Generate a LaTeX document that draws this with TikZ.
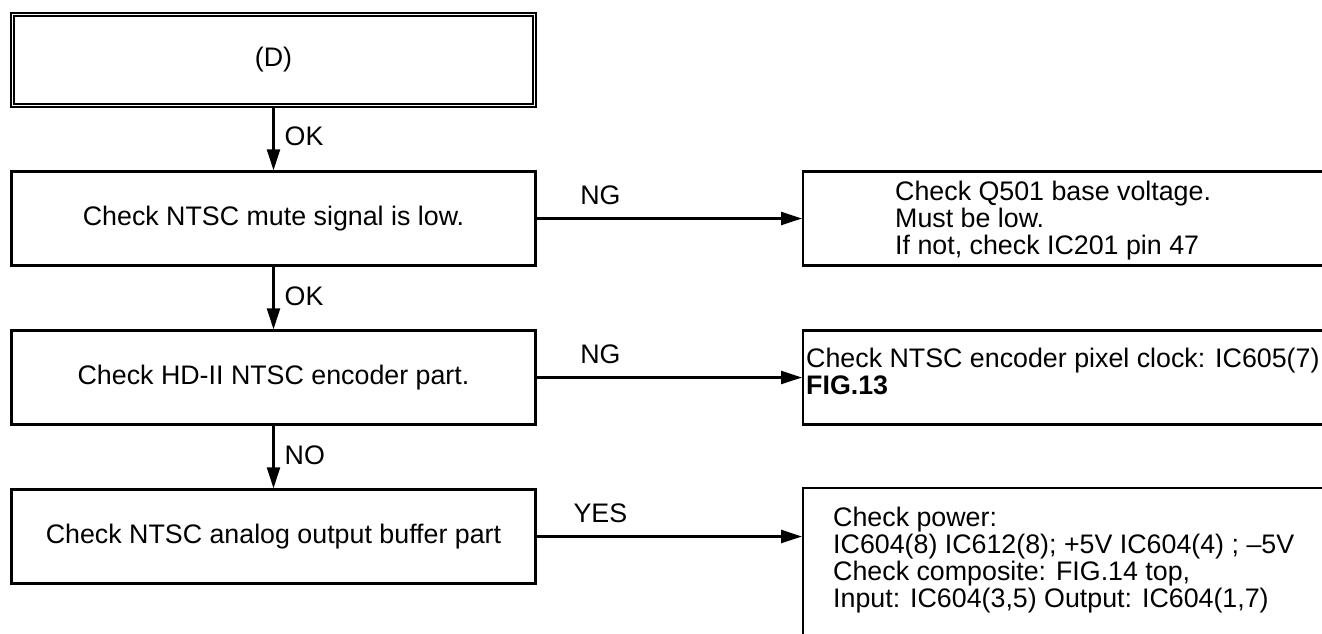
\documentclass[tikz,border=0pt]{standalone}
\usepackage{fontspec}
\setmainfont{Liberation Sans}
\usetikzlibrary{arrows.meta}
\begin{document}
\begin{tikzpicture}[x=1pt,y=-1pt,
  every node/.style={font=\fontsize{26.8}{27}\selectfont},
  box/.style={draw, line width=2.4pt, minimum width=524pt, minimum height=94pt, inner sep=0pt, anchor=center},
  topbox/.style={draw, line width=1.4pt, double, double distance=1.6pt, minimum width=522pt, minimum height=91pt, inner sep=0pt, anchor=center},
  rbox/.style={draw, line width=2.4pt, minimum width=600pt, minimum height=94pt, inner sep=0pt},
  txt/.style={inner sep=0pt, align=left, anchor=west},
  lbl/.style={inner sep=0pt},
  arr/.style={line width=2.4pt, -{Triangle[length=21pt,width=13pt]}}
]
\useasboundingbox (0,0) rectangle (1322,633);
\clip (0,0) rectangle (1322,633);

% left column
\node[topbox] (d) at (273.5,60) {(D)};
\node[box] (b2) at (273.5,218.5) {Check NTSC mute signal is low.};
\node[box] (b3) at (273.5,377.5) {Check HD-II NTSC encoder part.};
\node[box] (b4) at (273.5,536.5) {Check NTSC analog output buffer part};

% right column frames
\node[rbox, anchor=west] (r1) at (802,218.5) {};
\node[rbox, anchor=west] (r2) at (802,377.5) {};
\node[rbox, anchor=north west, minimum height=200pt] (r3) at (802,487) {};

% right column texts
\node[txt] (t1) at (895,221) {Check Q501 base voltage.\\Must be low.\\If not, check IC201 pin 47};
\node[txt] (t2) at (806,371.5) {Check NTSC encoder pixel clock: IC605(7)\\\textbf{FIG.13}};
\node[txt] (t3) at (833,560.5) {Check power:\\IC604(8) IC612(8); +5V IC604(4) ; –5V\\Check composite: FIG.14 top,\\Input: IC604(3,5) Output: IC604(1,7)};

% vertical connectors
\draw[arr] (d.south) -- (b2.north) node[midway, lbl, anchor=west, xshift=10pt, yshift=2pt] (l1) {OK};
\draw[arr] (b2.south) -- (b3.north) node[midway, lbl, anchor=west, xshift=10pt, yshift=2pt] (l2) {OK};
\draw[arr] (b3.south) -- (b4.north) node[midway, lbl, anchor=west, xshift=10pt, yshift=2pt] (l3) {NO};

% horizontal connectors
\draw[arr] (b2.east) -- (r1.west) node[pos=0.24, lbl, yshift=23pt] (l4) {NG};
\draw[arr] (b3.east) -- (r2.west) node[pos=0.24, lbl, yshift=23pt] (l5) {NG};
\draw[arr] (b4.east) -- (b4.east -| r3.west) node[pos=0.24, lbl, yshift=23pt] (l6) {YES};
\end{tikzpicture}
\end{document}
